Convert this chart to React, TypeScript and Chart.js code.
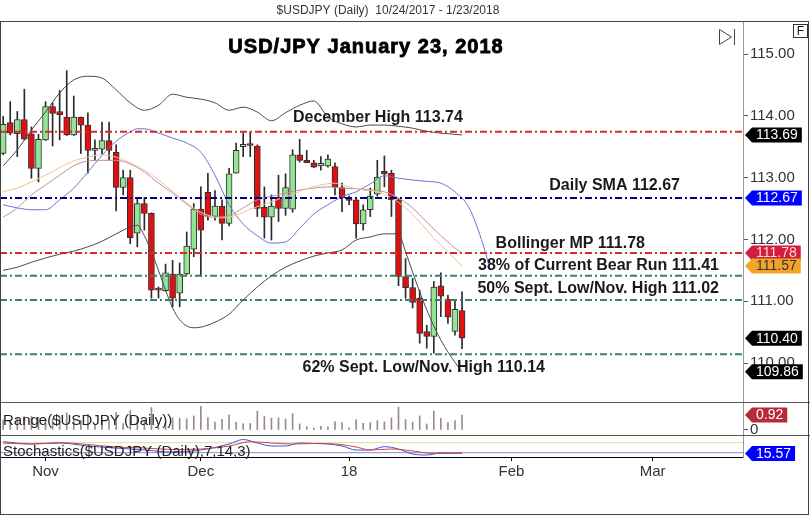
import React, { useEffect, useRef } from "react";
import { Chart, registerables } from "chart.js";

Chart.register(...registerables);

const FONT = "'Liberation Sans', Arial, Helvetica, sans-serif";

// Daily candles, index 0 = 10/24/2017 ... index 65 = 1/23/2018
const opens = [
  113.39, 113.89, 113.71, 113.94, 113.71, 113.15, 113.61, 114.15, 114.07, 113.98,
  113.69, 113.98, 113.85, 113.44, 113.46, 113.60, 113.41, 112.84, 113.00, 112.10,
  112.58, 112.42, 111.19, 111.17, 111.44, 111.13, 111.44, 111.84, 112.49, 112.76,
  112.37, 112.54, 112.26, 113.07, 113.50, 113.54, 113.51, 112.52, 112.36, 112.68,
  112.50, 112.49, 113.37, 113.28, 113.24, 113.19, 113.19, 113.18, 112.84, 112.67,
  112.64, 112.25, 112.48, 112.73, 113.10, 113.07, 112.64, 111.40, 111.22, 111.05,
  110.51, 110.43, 111.25, 111.03, 110.51, 110.85,
];
const highs = [
  113.99, 114.23, 114.07, 114.43, 113.82, 113.70, 114.23, 114.21, 114.41, 114.73,
  114.32, 113.98, 114.05, 113.61, 113.90, 113.90, 113.53, 113.12, 113.12, 112.66,
  112.68, 112.43, 111.23, 111.60, 111.66, 111.62, 112.12, 112.58, 112.85, 113.07,
  112.79, 112.64, 113.15, 113.56, 113.72, 113.74, 113.53, 112.85, 112.72, 113.04,
  113.06, 113.45, 113.62, 113.44, 113.28, 113.34, 113.37, 113.24, 112.91, 112.70,
  112.66, 112.56, 112.83, 113.28, 113.35, 113.12, 112.66, 111.69, 111.37, 111.18,
  110.61, 111.32, 111.46, 111.10, 111.03, 111.15,
];
const lows = [
  113.37, 113.69, 113.34, 113.61, 112.99, 112.93, 113.60, 113.51, 113.61, 113.68,
  113.68, 113.39, 113.07, 113.28, 113.37, 113.28, 112.46, 112.72, 111.93, 111.88,
  112.15, 111.05, 111.05, 111.16, 110.91, 110.91, 111.43, 111.72, 111.40, 112.31,
  112.31, 111.99, 112.22, 113.07, 113.34, 113.34, 112.37, 112.02, 111.99, 112.29,
  112.39, 112.44, 113.25, 113.24, 113.16, 113.12, 113.17, 112.72, 112.45, 112.56,
  112.02, 112.15, 112.37, 112.70, 112.85, 112.37, 111.25, 111.05, 110.89, 110.32,
  110.24, 110.16, 110.75, 110.64, 110.45, 110.23,
];
const closes = [
  113.86, 113.72, 113.94, 113.62, 113.15, 113.62, 114.15, 114.04, 114.02, 113.69,
  113.98, 113.85, 113.44, 113.47, 113.60, 113.44, 112.84, 113.00, 112.03, 112.58,
  112.42, 111.18, 111.18, 111.46, 111.05, 111.44, 111.89, 112.49, 112.15, 112.37,
  112.54, 112.26, 113.06, 113.44, 113.54, 113.52, 112.50, 112.36, 112.54, 112.50,
  112.84, 113.37, 113.28, 113.24, 113.17, 113.23, 113.30, 112.85, 112.67, 112.63,
  112.25, 112.48, 112.70, 113.01, 113.06, 112.64, 111.40, 111.22, 110.98, 110.48,
  110.43, 111.23, 111.08, 110.74, 110.87, 110.40,
];

// Indicator overlays: [candle index, value]
const upperBand = [
  [0, 113.19], [2, 113.45], [4, 113.77], [6, 114.06], [8, 114.37], [10, 114.58], [12, 114.64],
  [14, 114.61], [16, 114.42], [18, 114.21], [20, 114.09], [22, 114.17], [24, 114.35], [26, 114.3],
  [28, 114.27], [30, 114.21], [32, 114.09], [34, 114.14], [36, 114.06], [38, 113.92], [40, 114.05],
  [42, 114.17], [44, 114.24], [46, 113.98], [48, 113.87], [50, 113.82], [52, 113.85], [54, 113.85],
  [56, 113.83], [58, 113.8], [60, 113.75], [62, 113.72], [64, 113.7], [65, 113.69],
];
const lowerBand = [
  [0, 111.5], [2, 111.55], [4, 111.63], [6, 111.7], [8, 111.76], [10, 111.81], [12, 111.88],
  [14, 111.97], [16, 112.09], [18, 112.2], [19, 112.23], [20, 112.06], [21, 111.8], [22, 111.5],
  [23, 111.18], [24, 110.89], [25, 110.7], [26, 110.6], [27, 110.57], [28, 110.58], [30, 110.66],
  [32, 110.79], [34, 111.02], [36, 111.23], [38, 111.41], [40, 111.55], [42, 111.65], [44, 111.73],
  [46, 111.78], [48, 111.83], [50, 111.99], [52, 112.04], [54, 112.09], [56, 112.09], [57, 111.8],
  [58, 111.47], [59, 111.15], [60, 110.86], [61, 110.6], [62, 110.37], [63, 110.18], [64, 110.01],
  [65, 109.86],
];
const middleBand = [
  [0, 112.36], [2, 112.51], [4, 112.72], [6, 112.88], [8, 113.04], [10, 113.19], [12, 113.27],
  [14, 113.28], [16, 113.28], [18, 113.22], [20, 113.09], [22, 112.91], [24, 112.75], [26, 112.57],
  [28, 112.41], [30, 112.36], [32, 112.38], [34, 112.51], [36, 112.64], [38, 112.7], [40, 112.75],
  [42, 112.8], [44, 112.83], [46, 112.85], [48, 112.83], [50, 112.82], [52, 112.8], [54, 112.77],
  [56, 112.67], [58, 112.51], [60, 112.28], [62, 112.06], [64, 111.86], [65, 111.78],
];
const emaLine = [
  [0, 112.77], [2, 112.83], [4, 112.93], [6, 113.04], [8, 113.16], [10, 113.27], [12, 113.33],
  [14, 113.37], [16, 113.33], [18, 113.24], [20, 113.12], [22, 112.96], [24, 112.78], [26, 112.59],
  [28, 112.44], [30, 112.36], [31, 112.35], [33, 112.39], [35, 112.49], [37, 112.57], [39, 112.65],
  [41, 112.73], [43, 112.82], [45, 112.88], [47, 112.91], [49, 112.85], [51, 112.8], [53, 112.77],
  [55, 112.67], [57, 112.51], [59, 112.28], [61, 112.02], [63, 111.8], [65, 111.57],
];
const displacedMA = [
  [0, 112.56], [2, 112.51], [4, 112.48], [6, 112.48], [8, 112.64], [10, 112.83], [12, 113.09],
  [14, 113.36], [16, 113.59], [18, 113.74], [19, 113.79], [20, 113.79], [22, 113.72], [24, 113.64],
  [26, 113.56], [28, 113.41], [30, 113.04], [32, 112.56], [34, 112.25], [36, 112.06], [38, 111.94],
  [40, 111.96], [42, 112.18], [44, 112.41], [46, 112.56], [48, 112.69], [50, 112.77], [52, 112.9],
  [54, 113.03], [56, 112.99], [58, 112.96], [60, 112.94], [62, 112.91], [64, 112.77], [66, 112.51],
  [68, 111.91], [69, 111.5],
];
const stochK = [
  [0, 86], [4, 72], [8, 78], [12, 60], [16, 48], [20, 36], [24, 24], [28, 36], [32, 72], [34, 99],
  [36, 78], [38, 60], [40, 60], [42, 78], [44, 75], [46, 72], [48, 60], [50, 36], [52, 36], [54, 56],
  [56, 42], [58, 12], [60, 6], [62, 18], [64, 18], [65, 15.57],
];
const stochD = [
  [0, 78], [4, 72], [8, 80], [12, 69], [16, 54], [20, 48], [24, 39], [28, 42], [32, 60], [35, 86],
  [38, 78], [41, 72], [44, 75], [47, 72], [50, 54], [52, 36], [55, 42], [58, 30], [61, 15], [65, 18],
];
const stochLevels = [80, 20];

// Horizontal levels
const levelValues = [113.74, 112.67, 111.78, 111.41, 111.02, 110.14];
const levelNames = [
  "December High",
  "Daily SMA",
  "Bollinger MP",
  "38% of Current Bear Run",
  "50% Sept. Low/Nov. High",
  "62% Sept. Low/Nov. High",
];

// Axes
const xTickIndex = [6, 28, 49, 72, 92];
const xTickLabels = ["Nov", "Dec", "18", "Feb", "Mar"];
const priceTicks = [110, 111, 112, 113, 114, 115];
const rangeTicks = [0];

const X_MIN = -0.45;
const X_MAX = 104.8;
const AXIS_W = 67;

const levelColors = ["#d42a2a", "#000080", "#d42a2a", "#3d7f6b", "#3d7f6b", "#3d7f6b"];
const levelLayout = [
  { x: 293, align: "left", dy: -14 },
  { x: 680, align: "right", dy: -12 },
  { x: 645, align: "right", dy: -9 },
  { x: 719, align: "right", dy: -10 },
  { x: 719, align: "right", dy: -11 },
  { x: 545, align: "right", dy: 13 },
];

const last = (a: number[][]) => a[a.length - 1][1];

function drawTag(ctx: CanvasRenderingContext2D, x: number, y: number, text: string, bg: string, fg: string) {
  ctx.save();
  ctx.font = `14px ${FONT}`;
  const w = ctx.measureText(text).width + 8;
  const h = 15;
  ctx.beginPath();
  ctx.moveTo(x, y);
  ctx.lineTo(x + 7, y - h / 2);
  ctx.lineTo(x + 7 + w, y - h / 2);
  ctx.lineTo(x + 7 + w, y + h / 2);
  ctx.lineTo(x + 7, y + h / 2);
  ctx.closePath();
  ctx.fillStyle = bg;
  ctx.fill();
  ctx.fillStyle = fg;
  ctx.textAlign = "left";
  ctx.textBaseline = "middle";
  ctx.fillText(text, x + 11, y + 0.5);
  ctx.restore();
}

const overlayPlugin = {
  id: "overlay",
  afterDatasetsDraw(chart: any) {
    const ctx: CanvasRenderingContext2D = chart.ctx;
    const y = chart.scales.y;
    ctx.save();
    ctx.fillStyle = "#1a1a1a";
    ctx.textBaseline = "middle";
    ctx.font = `bold 16px ${FONT}`;
    levelValues.forEach((v, i) => {
      const L = levelLayout[i];
      ctx.textAlign = L.align as CanvasTextAlign;
      ctx.fillText(`${levelNames[i]} ${v.toFixed(2)}`, L.x, y.getPixelForValue(v) + L.dy);
    });
    // panel captions
    ctx.font = `15px ${FONT}`;
    ctx.textAlign = "left";
    ctx.fillStyle = "#222";
    const yR = chart.scales.yR;
    const yS = chart.scales.yS;
    ctx.fillText("Range($USDJPY (Daily))", 3, yR.top + 19);
    ctx.fillText("Stochastics($USDJPY (Daily),7,14,3)", 3, yS.top + 17);
    ctx.restore();
  },
  afterDraw(chart: any) {
    const ctx: CanvasRenderingContext2D = chart.ctx;
    const { y, yR, yS } = chart.scales;
    const area = chart.chartArea;
    const W = chart.width;
    ctx.save();
    // panel separators
    ctx.strokeStyle = "#555";
    ctx.lineWidth = 1;
    [yR.top, yS.top].forEach((t: number) => {
      ctx.beginPath();
      ctx.moveTo(0, Math.round(t) + 0.5);
      ctx.lineTo(W, Math.round(t) + 0.5);
      ctx.stroke();
    });
    // outer frame
    ctx.strokeStyle = "#444";
    ctx.strokeRect(0.5, area.top + 0.5, 808, 493);
    // header caption
    ctx.fillStyle = "#333";
    ctx.font = `12px ${FONT}`;
    ctx.textAlign = "center";
    ctx.textBaseline = "middle";
    ctx.fillText("$USDJPY (Daily)  10/24/2017 - 1/23/2018", 388, 11);
    // title
    ctx.font = `bold 20px ${FONT}`;
    (ctx as any).letterSpacing = "1px";
    ctx.fillStyle = "#000";
    ctx.strokeStyle = "#000";
    ctx.lineWidth = 0.8;
    ctx.fillText("USD/JPY January 23, 2018", 366, 47);
    ctx.strokeText("USD/JPY January 23, 2018", 366, 47);
    (ctx as any).letterSpacing = "0px";
    // F box
    ctx.lineWidth = 1;
    ctx.strokeStyle = "#333";
    ctx.strokeRect(793.5, 24.5, 14, 13);
    ctx.font = `12px ${FONT}`;
    ctx.fillStyle = "#111";
    ctx.fillText("F", 800.5, 31.5);
    // play-to-end icon
    ctx.strokeStyle = "#444";
    ctx.beginPath();
    ctx.moveTo(719.5, 29.5);
    ctx.lineTo(719.5, 44.5);
    ctx.lineTo(731.5, 37);
    ctx.closePath();
    ctx.stroke();
    ctx.beginPath();
    ctx.moveTo(734.5, 29);
    ctx.lineTo(734.5, 45);
    ctx.stroke();
    ctx.restore();

    // value tags on the right axis
    const tx = area.right + 2;
    const tags = [
      { v: last(upperBand), bg: "#000000", fg: "#ffffff" },
      { v: levelValues[1], bg: "#0000ff", fg: "#ffffff" },
      { v: last(middleBand), bg: "#d21e3c", fg: "#ffd6dc" },
      { v: last(emaLine), bg: "#f3a325", fg: "#333333" },
      { v: closes[closes.length - 1], bg: "#000000", fg: "#ffffff" },
      { v: last(lowerBand), bg: "#000000", fg: "#ffffff" },
    ];
    tags.forEach((t) => drawTag(ctx, tx, y.getPixelForValue(t.v), t.v.toFixed(2), t.bg, t.fg));
    const lastRange = highs[highs.length - 1] - lows[lows.length - 1];
    drawTag(ctx, tx, yR.getPixelForValue(lastRange), lastRange.toFixed(2), "#b62a3a", "#ffffff");
    const lastK = last(stochK);
    drawTag(ctx, tx, yS.getPixelForValue(lastK), lastK.toFixed(2), "#0000ff", "#ffffff");
  },
};

export default function App() {
  const ref = useRef<HTMLCanvasElement | null>(null);

  useEffect(() => {
    if (!ref.current) return;
    const idx = opens.map((_, i) => i);
    const pts = (a: number[][]) => a.map(([x, v]) => ({ x, y: v }));
    const lineDs = (label: string, data: number[][], color: string, axis = "y", width = 1) => ({
      type: "line" as const,
      label,
      data: pts(data),
      yAxisID: axis,
      borderColor: color,
      borderWidth: width,
      pointRadius: 0,
      fill: false,
      cubicInterpolationMode: "monotone" as const,
      order: 3,
    });
    const green = "#93e593";
    const red = "#e01010";

    const datasets: any[] = [
      {
        type: "bar",
        label: "wicks",
        data: idx.map((i) => ({ x: i, y: [lows[i], highs[i]] })),
        yAxisID: "y",
        backgroundColor: "#2a2a2a",
        barThickness: 1,
        grouped: false,
        order: 6,
      },
      {
        type: "bar",
        label: "bodies",
        data: idx.map((i) => ({ x: i, y: [opens[i], closes[i]] })),
        yAxisID: "y",
        backgroundColor: idx.map((i) => (closes[i] >= opens[i] ? green : red)),
        borderColor: "#303030",
        borderWidth: 1,
        borderSkipped: false,
        barThickness: 6,
        minBarLength: 2,
        grouped: false,
        order: 5,
      },
      lineDs("upper", upperBand, "#4a4a4a"),
      lineDs("lower", lowerBand, "#4a4a4a"),
      lineDs("ema", emaLine, "#efc48c"),
      lineDs("mid", middleBand, "#bf8ea2"),
      lineDs("dma", displacedMA, "#6f6fd8"),
      ...levelValues.map((v, i) => ({
        type: "line",
        label: levelNames[i],
        data: [
          { x: X_MIN, y: v },
          { x: X_MAX, y: v },
        ],
        yAxisID: "y",
        borderColor: levelColors[i],
        borderWidth: 2,
        borderDash: [7, 3, 2, 3],
        pointRadius: 0,
        order: 2,
      })),
      {
        type: "bar",
        label: "range",
        data: idx.map((i) => ({ x: i, y: highs[i] - lows[i] })),
        yAxisID: "yR",
        backgroundColor: "#9a8898",
        barThickness: 1,
        grouped: false,
        order: 1,
      },
      ...stochLevels.map((v, i) => ({
        type: "line",
        label: "lvl" + v,
        data: [
          { x: X_MIN, y: v },
          { x: X_MAX, y: v },
        ],
        yAxisID: "yS",
        borderColor: i === 0 ? "#dcdca8" : "#8a8ad2",
        borderWidth: 1,
        pointRadius: 0,
        order: 1,
      })),
      { ...lineDs("%D", stochD, "#c84848", "yS"), order: 0 },
      { ...lineDs("%K", stochK, "#4d4dd8", "yS"), order: 0 },
    ];

    const tickFont = { family: FONT, size: 15 };

    const chart = new Chart(ref.current, {
      type: "line",
      data: { datasets },
      plugins: [overlayPlugin],
      options: {
        animation: false,
        responsive: false,
        maintainAspectRatio: false,
        events: [],
        layout: { padding: { top: 21, left: 0, right: 0, bottom: 0 } },
        plugins: { legend: { display: false }, tooltip: { enabled: false } },
        scales: {
          x: {
            type: "linear",
            position: "bottom",
            min: X_MIN,
            max: X_MAX,
            offset: false,
            afterFit: (s: any) => {
              s.height = 59;
            },
            afterBuildTicks: (s: any) => {
              s.ticks = xTickIndex.map((v) => ({ value: v }));
            },
            ticks: {
              callback: (v: any) => {
                const k = xTickIndex.indexOf(Number(v));
                return k >= 0 ? xTickLabels[k] : "";
              },
              font: tickFont,
              color: "#333",
              padding: 2,
              maxRotation: 0,
              autoSkip: false,
            },
            grid: { drawOnChartArea: false, drawTicks: true, tickLength: 4, color: "#000", offset: false },
            border: { color: "#000", width: 1 },
          },
          y: {
            type: "linear",
            position: "right",
            stack: "panels",
            stackWeight: 381,
            weight: 1,
            min: 109.369,
            max: 115.534,
            afterFit: (s: any) => {
              s.width = AXIS_W;
            },
            afterBuildTicks: (s: any) => {
              s.ticks = priceTicks.map((v) => ({ value: v }));
            },
            ticks: {
              callback: (v: any) => Number(v).toFixed(2),
              font: tickFont,
              color: "#333",
              padding: 2,
            },
            grid: { drawOnChartArea: false, tickLength: 5, color: "#555" },
            border: { color: "#9a9a9a" },
          },
          yR: {
            type: "linear",
            position: "right",
            stack: "panels",
            stackWeight: 33,
            weight: 2,
            min: -0.307,
            max: 1.718,
            afterFit: (s: any) => {
              s.width = AXIS_W;
            },
            afterBuildTicks: (s: any) => {
              s.ticks = rangeTicks.map((v) => ({ value: v }));
            },
            ticks: {
              callback: (v: any) => String(v),
              font: tickFont,
              color: "#333",
              padding: 2,
            },
            grid: { drawOnChartArea: false, tickLength: 5, color: "#555" },
            border: { color: "#9a9a9a" },
          },
          yS: {
            type: "linear",
            position: "right",
            stack: "panels",
            stackWeight: 22,
            weight: 3,
            min: -6,
            max: 126,
            afterFit: (s: any) => {
              s.width = AXIS_W;
            },
            ticks: { display: false },
            grid: { drawOnChartArea: false, drawTicks: false },
            border: { color: "#9a9a9a" },
          },
        },
      } as any,
    });
    return () => chart.destroy();
  }, []);

  return (
    <div style={{ position: "absolute", left: 0, top: 0, width: 810, height: 516, background: "#fff" }}>
      <canvas ref={ref} width={810} height={516} style={{ display: "block" }} />
    </div>
  );
}
